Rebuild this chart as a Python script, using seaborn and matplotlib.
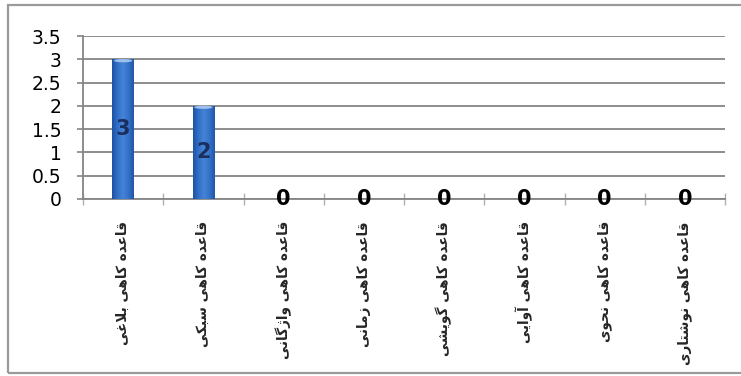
import numpy as np
import pandas as pd
import matplotlib
matplotlib.use("Agg")
import matplotlib.pyplot as plt
from matplotlib.patches import Rectangle, Ellipse
from matplotlib.colors import LinearSegmentedColormap
from matplotlib.ticker import FixedLocator
import seaborn as sns

# ---- data -------------------------------------------------------------
categories = [
    "قاعده کاهی بلاغی",
    "قاعده کاهی سبکی",
    "قاعده کاهی واژگانی",
    "قاعده کاهی زمانی",
    "قاعده کاهی گویشی",
    "قاعده کاهی آوایی",
    "قاعده کاهی نحوی",
    "قاعده کاهی نوشتاری",
]
counts = [3, 2, 0, 0, 0, 0, 0, 0]
y_ticks = [0, 0.5, 1, 1.5, 2, 2.5, 3, 3.5]
y_tick_labels = ["0", "0.5", "1", "1.5", "2", "2.5", "3", "3.5"]

# ---- minimal Persian shaping (matplotlib has no complex text layout) ---
# letter -> (isolated, final, initial, medial)
FORMS = {
    "ا": ("\uFE8D", "\uFE8E", None, None),
    "آ": ("\uFE81", "\uFE82", None, None),
    "ب": ("\uFE8F", "\uFE90", "\uFE91", "\uFE92"),
    "ت": ("\uFE95", "\uFE96", "\uFE97", "\uFE98"),
    "ح": ("\uFEA1", "\uFEA2", "\uFEA3", "\uFEA4"),
    "د": ("\uFEA9", "\uFEAA", None, None),
    "ر": ("\uFEAD", "\uFEAE", None, None),
    "ز": ("\uFEAF", "\uFEB0", None, None),
    "ژ": ("\uFB8A", "\uFB8B", None, None),
    "س": ("\uFEB1", "\uFEB2", "\uFEB3", "\uFEB4"),
    "ش": ("\uFEB5", "\uFEB6", "\uFEB7", "\uFEB8"),
    "ع": ("\uFEC9", "\uFECA", "\uFECB", "\uFECC"),
    "غ": ("\uFECD", "\uFECE", "\uFECF", "\uFED0"),
    "ق": ("\uFED5", "\uFED6", "\uFED7", "\uFED8"),
    "ک": ("\uFB8E", "\uFB8F", "\uFB90", "\uFB91"),
    "گ": ("\uFB92", "\uFB93", "\uFB94", "\uFB95"),
    "ل": ("\uFEDD", "\uFEDE", "\uFEDF", "\uFEE0"),
    "م": ("\uFEE1", "\uFEE2", "\uFEE3", "\uFEE4"),
    "ن": ("\uFEE5", "\uFEE6", "\uFEE7", "\uFEE8"),
    "ه": ("\uFEE9", "\uFEEA", "\uFEEB", "\uFEEC"),
    "و": ("\uFEED", "\uFEEE", None, None),
    "ی": ("\uFBFC", "\uFBFD", "\uFBFE", "\uFBFF"),
}
DUAL = {c for c, f in FORMS.items() if f[2] is not None}
LAM_ALEF = {"ا": ("\uFEFB", "\uFEFC"), "آ": ("\uFEF5", "\uFEF6")}


def shape_fa(text):
    """Return the text as joined presentation forms in visual (LTR) order."""
    out = []
    i = 0
    while i < len(text):
        c = text[i]
        joins_prev = i > 0 and text[i - 1] in DUAL
        if c not in FORMS:
            out.append(c)
            i += 1
            continue
        if c == "ل" and i + 1 < len(text) and text[i + 1] in LAM_ALEF:
            iso, fin = LAM_ALEF[text[i + 1]]
            out.append(fin if joins_prev else iso)
            i += 2
            continue
        nxt = text[i + 1] if i + 1 < len(text) else None
        joins_next = c in DUAL and nxt in FORMS
        iso, fin, ini, med = FORMS[c]
        if joins_prev and joins_next:
            g = med
        elif joins_prev:
            g = fin
        elif joins_next:
            g = ini
        else:
            g = iso
        out.append(g)
        i += 1
    return "".join(reversed(out))


# ---- figure ------------------------------------------------------------
sns.set_style("white")
plt.rcParams["font.family"] = ["DejaVu Sans"]

W, H = 741, 376
fig = plt.figure(figsize=(W / 100, H / 100), dpi=100)
ax = fig.add_axes([83 / W, 1 - 199 / H, (725 - 83) / W, (199 - 36) / H])

df = pd.DataFrame({"category": categories, "count": counts})
bar_color = "#2f68c4"
sns.barplot(data=df, x="category", y="count", color=bar_color, width=0.27,
            saturation=1, ax=ax, zorder=3, edgecolor="none")

ax.set_xlim(-0.5, len(categories) - 0.5)
ax.set_ylim(0, 3.5)

# horizontal gridlines
grid_color = "#858585"
ax.yaxis.set_major_locator(FixedLocator(y_ticks))
ax.set_yticklabels(y_tick_labels, fontsize=13.5, color="black")
ax.grid(axis="y", color=grid_color, linewidth=1.3, zorder=0)
ax.grid(axis="x", visible=False)
ax.set_axisbelow(True)

for side in ("top", "right"):
    ax.spines[side].set_visible(False)
for side in ("left", "bottom"):
    ax.spines[side].set_color(grid_color)
    ax.spines[side].set_linewidth(1.3)

ax.tick_params(axis="y", which="major", direction="out", length=4.5,
               width=1.2, color=grid_color, pad=11, left=True)
# category separators on the x axis
ax.xaxis.set_minor_locator(FixedLocator(np.arange(-0.5, len(categories), 1.0)))
ax.tick_params(axis="x", which="minor", direction="inout", length=8,
               width=1.0, color="#b0b0b0", bottom=True)
ax.tick_params(axis="x", which="major", length=0, pad=16)
ax.set_xticks(range(len(categories)))
ax.set_xticklabels([shape_fa(c) for c in categories], rotation=90,
                   fontsize=9.8, fontweight="bold", va="top", ha="center")
ax.set_xlabel("")
ax.set_ylabel("")

# cylinder-like shading on each bar
cmap = LinearSegmentedColormap.from_list(
    "bar", ["#1f52a3", "#3170c8", "#4683d8", "#3472c9", "#2356a8"])
grad = np.linspace(0, 1, 64).reshape(1, -1)
bars = [p for p in ax.patches if isinstance(p, Rectangle)]
for p in bars:
    h = p.get_height()
    if h <= 0:
        continue
    x0 = p.get_x()
    w = p.get_width()
    im = ax.imshow(grad, extent=[x0, x0 + w, 0, h], aspect="auto",
                   cmap=cmap, zorder=4, interpolation="bicubic")
    im.set_clip_path(p)
    ax.add_patch(Ellipse((x0 + w / 2, h - 0.03), w * 0.85, 0.07,
                         facecolor="#9fc0ec", edgecolor="none", zorder=5))
ax.set_xlim(-0.5, len(categories) - 0.5)
ax.set_ylim(0, 3.5)

# value labels centred in each bar
labels = ax.bar_label(ax.containers[0], labels=[str(v) for v in counts],
                      label_type="center", fontsize=15, fontweight="bold",
                      zorder=6)
for t, v in zip(labels, counts):
    t.set_color("#1b2f5e" if v > 0 else "black")
    t.set_zorder(6)

# outer chart border
fig.patches.append(Rectangle((8 / W, 3 / H), 1 - 8 / W + 0.01, 1 - 8 / H,
                             transform=fig.transFigure, fill=False,
                             edgecolor="#9a9a9a", linewidth=1.6))

fig.savefig("out.png", dpi=100)
